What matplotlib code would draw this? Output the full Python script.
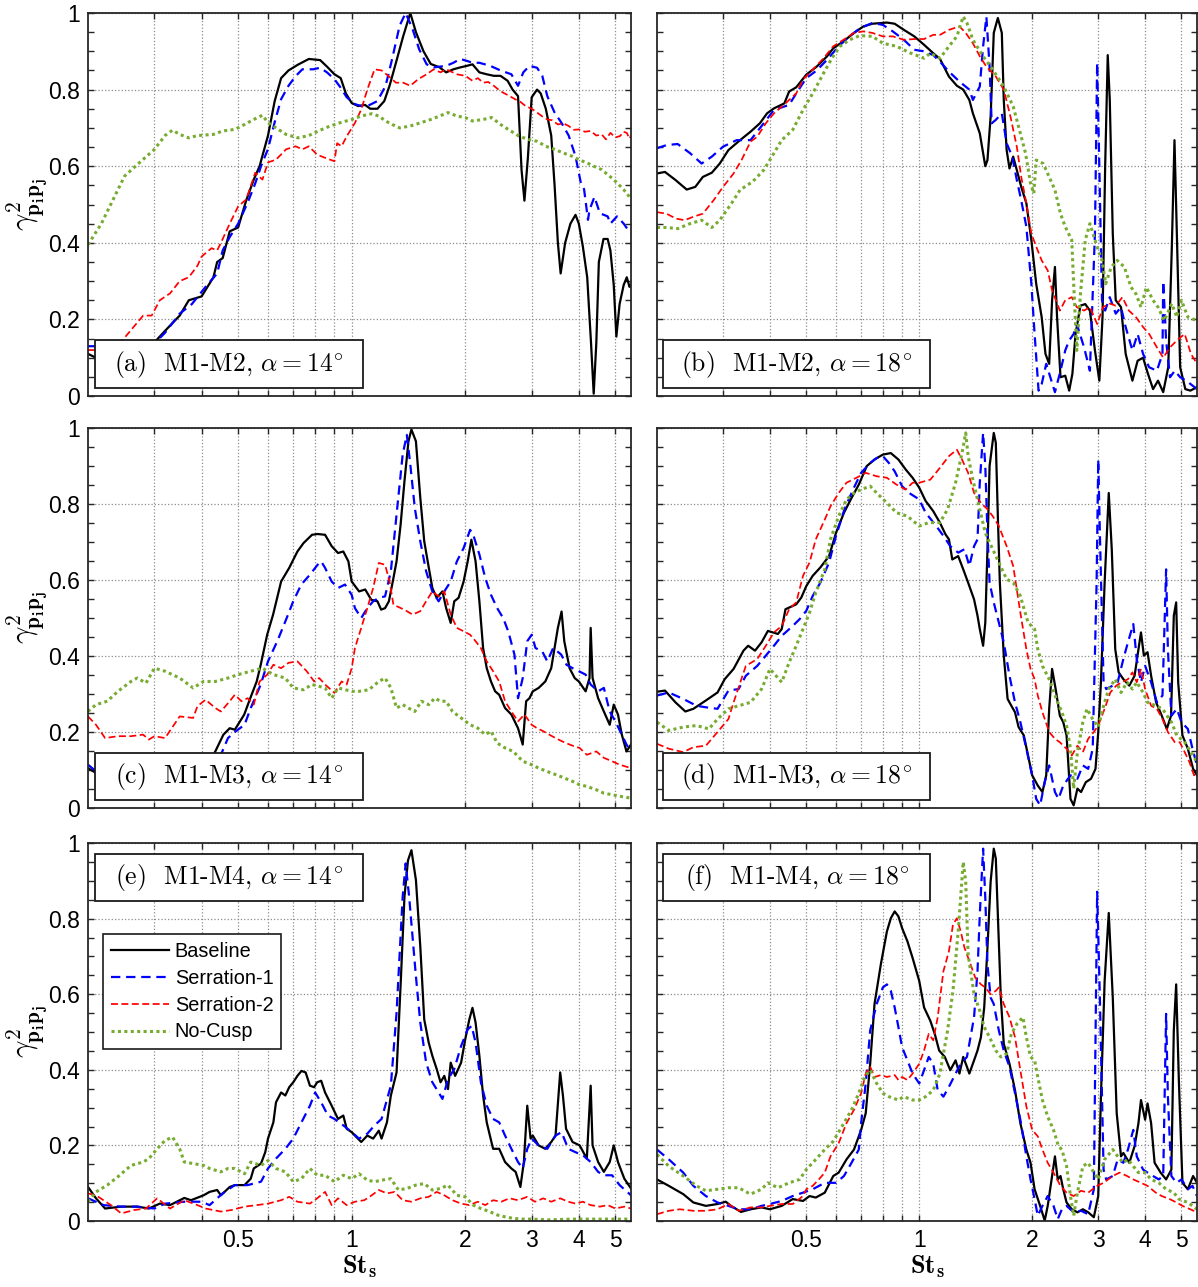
import matplotlib
matplotlib.use("Agg")
import matplotlib.pyplot as plt
from matplotlib.patches import Rectangle
from matplotlib.ticker import FixedLocator, FixedFormatter, MultipleLocator

plt.rcParams['mathtext.fontset'] = 'cm'
plt.rcParams['font.family'] = ['Liberation Sans', 'DejaVu Sans']

# ---------------- data: (St_s, coherence) ----------------
a_base = [(0.2,0.11),(0.22,0.09),(0.25,0.08),(0.28,0.11),(0.30,0.14),(0.32,0.17),(0.35,0.21),(0.37,0.25),(0.40,0.26),(0.43,0.31),(0.44,0.35),(0.455,0.36),(0.475,0.43),(0.50,0.44),(0.525,0.51),(0.55,0.565),(0.57,0.60),(0.60,0.68),(0.625,0.77),(0.65,0.83),(0.68,0.85),(0.72,0.865),(0.77,0.88),(0.825,0.877),(0.86,0.86),(0.90,0.84),(0.935,0.83),(0.965,0.79),(1.0,0.765),(1.04,0.757),(1.085,0.76),(1.12,0.75),(1.17,0.75),(1.22,0.77),(1.26,0.81),(1.31,0.87),(1.37,0.94),(1.43,1.0),(1.48,0.95),(1.55,0.90),(1.62,0.867),(1.71,0.858),(1.78,0.845),(1.86,0.853),(1.94,0.858),(2.02,0.862),(2.09,0.866),(2.18,0.845),(2.28,0.84),(2.38,0.836),(2.48,0.836),(2.59,0.823),(2.67,0.80),(2.76,0.783),(2.82,0.59),(2.87,0.51),(2.93,0.62),(3.0,0.78),(3.1,0.80),(3.17,0.79),(3.27,0.75),(3.38,0.68),(3.45,0.55),(3.52,0.40),(3.58,0.32),(3.68,0.40),(3.80,0.45),(3.92,0.473),(4.0,0.45),(4.1,0.39),(4.21,0.31),(4.31,0.137),(4.38,0.006),(4.45,0.137),(4.52,0.35),(4.65,0.41),(4.77,0.41),(4.85,0.38),(4.95,0.29),(5.03,0.155),(5.13,0.24),(5.26,0.29),(5.36,0.31),(5.45,0.285),(5.5,0.29)]
a_ser1 = [(0.2,0.13),(0.21,0.13),(0.23,0.125),(0.26,0.12),(0.28,0.125),(0.30,0.137),(0.32,0.165),(0.35,0.215),(0.377,0.24),(0.41,0.285),(0.44,0.32),(0.455,0.38),(0.475,0.415),(0.5,0.45),(0.53,0.505),(0.555,0.555),(0.575,0.60),(0.6,0.645),(0.625,0.715),(0.65,0.775),(0.68,0.81),(0.71,0.835),(0.74,0.853),(0.79,0.853),(0.825,0.857),(0.86,0.845),(0.9,0.827),(0.935,0.805),(0.97,0.78),(1.02,0.762),(1.06,0.757),(1.1,0.757),(1.17,0.77),(1.23,0.81),(1.28,0.88),(1.34,0.967),(1.39,1.0),(1.45,0.958),(1.51,0.905),(1.58,0.866),(1.65,0.858),(1.78,0.862),(1.86,0.87),(1.94,0.88),(2.02,0.875),(2.09,0.87),(2.18,0.87),(2.33,0.862),(2.48,0.85),(2.65,0.84),(2.76,0.81),(2.85,0.845),(2.96,0.862),(3.1,0.857),(3.2,0.836),(3.3,0.783),(3.45,0.74),(3.6,0.713),(3.76,0.68),(3.92,0.626),(4.05,0.556),(4.13,0.54),(4.23,0.46),(4.27,0.486),(4.4,0.52),(4.55,0.477),(4.77,0.469),(4.85,0.45),(5.05,0.469),(5.26,0.45),(5.4,0.434),(5.5,0.425)]
a_ser2 = [(0.2,0.12),(0.22,0.12),(0.235,0.13),(0.247,0.146),(0.26,0.172),(0.28,0.21),(0.295,0.21),(0.31,0.25),(0.33,0.268),(0.35,0.30),(0.37,0.31),(0.39,0.34),(0.40,0.364),(0.425,0.386),(0.44,0.38),(0.455,0.41),(0.475,0.45),(0.5,0.495),(0.525,0.513),(0.54,0.548),(0.555,0.583),(0.58,0.565),(0.6,0.61),(0.63,0.617),(0.67,0.644),(0.71,0.652),(0.74,0.644),(0.77,0.652),(0.81,0.63),(0.86,0.62),(0.9,0.613),(0.915,0.66),(0.94,0.652),(0.97,0.678),(1.02,0.713),(1.06,0.748),(1.1,0.80),(1.15,0.853),(1.2,0.85),(1.25,0.836),(1.31,0.818),(1.37,0.818),(1.43,0.81),(1.5,0.827),(1.58,0.84),(1.65,0.853),(1.72,0.845),(1.78,0.853),(1.9,0.84),(2.0,0.836),(2.09,0.823),(2.16,0.83),(2.23,0.818),(2.3,0.82),(2.38,0.81),(2.45,0.8),(2.52,0.792),(2.6,0.785),(2.71,0.775),(2.8,0.768),(2.89,0.757),(3.0,0.75),(3.1,0.74),(3.2,0.73),(3.3,0.722),(3.4,0.72),(3.52,0.709),(3.64,0.712),(3.76,0.705),(3.88,0.695),(4.0,0.696),(4.15,0.69),(4.3,0.692),(4.45,0.68),(4.6,0.683),(4.72,0.67),(4.85,0.687),(5.0,0.675),(5.15,0.679),(5.25,0.69),(5.36,0.687),(5.45,0.672),(5.5,0.68)]
a_nocusp = [(0.2,0.395),(0.217,0.45),(0.235,0.52),(0.25,0.574),(0.27,0.604),(0.3,0.644),(0.32,0.68),(0.335,0.694),(0.35,0.683),(0.37,0.674),(0.39,0.68),(0.43,0.683),(0.455,0.692),(0.49,0.696),(0.52,0.709),(0.55,0.722),(0.58,0.733),(0.6,0.714),(0.63,0.70),(0.67,0.683),(0.72,0.674),(0.77,0.68),(0.825,0.694),(0.877,0.705),(0.935,0.714),(1.0,0.722),(1.06,0.731),(1.13,0.737),(1.18,0.731),(1.23,0.718),(1.28,0.709),(1.34,0.70),(1.43,0.705),(1.53,0.714),(1.62,0.722),(1.71,0.731),(1.8,0.74),(1.9,0.731),(2.0,0.727),(2.09,0.718),(2.23,0.722),(2.35,0.727),(2.48,0.709),(2.6,0.696),(2.76,0.68),(2.93,0.67),(3.1,0.665),(3.27,0.652),(3.45,0.644),(3.63,0.635),(3.84,0.626),(4.0,0.617),(4.2,0.609),(4.38,0.60),(4.6,0.591),(4.77,0.578),(4.95,0.565),(5.15,0.548),(5.36,0.53),(5.5,0.513)]

b_base = [(0.2,0.581),(0.21,0.585),(0.224,0.564),(0.24,0.539),(0.253,0.546),(0.265,0.572),(0.28,0.583),(0.294,0.607),(0.31,0.642),(0.333,0.668),(0.355,0.69),(0.376,0.712),(0.393,0.738),(0.41,0.751),(0.437,0.764),(0.45,0.795),(0.47,0.806),(0.5,0.839),(0.533,0.86),(0.568,0.887),(0.59,0.908),(0.628,0.926),(0.67,0.948),(0.71,0.965),(0.75,0.972),(0.82,0.975),(0.86,0.972),(0.91,0.956),(0.97,0.939),(1.03,0.917),(1.09,0.895),(1.136,0.88),(1.2,0.834),(1.26,0.81),(1.31,0.80),(1.36,0.773),(1.39,0.738),(1.45,0.686),(1.5,0.60),(1.52,0.616),(1.55,0.73),(1.58,0.948),(1.62,0.987),(1.66,0.948),(1.68,0.773),(1.71,0.642),(1.74,0.594),(1.78,0.625),(1.82,0.59),(1.87,0.546),(1.93,0.503),(1.99,0.407),(2.05,0.293),(2.12,0.206),(2.17,0.11),(2.22,0.084),(2.26,0.25),(2.3,0.337),(2.33,0.206),(2.38,0.049),(2.45,0.053),(2.51,0.014),(2.56,0.058),(2.61,0.162),(2.69,0.236),(2.77,0.24),(2.85,0.223),(2.94,0.119),(3.02,0.04),(3.08,0.206),(3.13,0.599),(3.18,0.89),(3.22,0.773),(3.28,0.424),(3.34,0.25),(3.45,0.232),(3.55,0.11),(3.7,0.04),(3.82,0.092),(3.95,0.10),(4.07,0.058),(4.2,0.018),(4.33,0.04),(4.47,0.01),(4.61,0.075),(4.71,0.38),(4.79,0.668),(4.86,0.424),(4.96,0.075),(5.12,0.018),(5.28,0.014),(5.5,0.023)]
b_ser1 = [(0.2,0.647),(0.212,0.655),(0.227,0.658),(0.245,0.634),(0.263,0.607),(0.28,0.625),(0.3,0.651),(0.326,0.668),(0.355,0.668),(0.385,0.712),(0.41,0.747),(0.45,0.76),(0.47,0.79),(0.5,0.83),(0.533,0.85),(0.568,0.878),(0.61,0.913),(0.652,0.939),(0.695,0.96),(0.75,0.974),(0.8,0.969),(0.85,0.952),(0.91,0.93),(0.97,0.904),(1.03,0.90),(1.09,0.89),(1.136,0.873),(1.2,0.847),(1.28,0.821),(1.36,0.80),(1.39,0.773),(1.45,0.808),(1.48,0.913),(1.51,0.99),(1.54,0.86),(1.56,0.712),(1.6,0.721),(1.66,0.738),(1.71,0.66),(1.77,0.625),(1.82,0.564),(1.87,0.511),(1.93,0.442),(1.99,0.293),(2.03,0.162),(2.08,0.014),(2.12,0.031),(2.18,0.084),(2.25,0.04),(2.3,0.01),(2.38,0.066),(2.45,0.119),(2.51,0.145),(2.58,0.162),(2.63,0.188),(2.75,0.127),(2.85,0.066),(2.94,0.424),(2.98,0.87),(3.02,0.60),(3.07,0.25),(3.13,0.223),(3.22,0.258),(3.34,0.215),(3.45,0.232),(3.55,0.18),(3.7,0.119),(3.82,0.162),(3.95,0.11),(4.1,0.075),(4.3,0.066),(4.45,0.11),(4.47,0.30),(4.55,0.145),(4.66,0.049),(4.8,0.066),(4.96,0.049),(5.15,0.04),(5.5,0.018)]
b_ser2 = [(0.2,0.48),(0.212,0.476),(0.225,0.463),(0.237,0.459),(0.25,0.468),(0.265,0.476),(0.283,0.511),(0.3,0.546),(0.32,0.581),(0.336,0.616),(0.355,0.664),(0.37,0.677),(0.39,0.712),(0.41,0.738),(0.44,0.764),(0.47,0.79),(0.49,0.826),(0.52,0.852),(0.556,0.882),(0.59,0.913),(0.628,0.93),(0.67,0.948),(0.71,0.952),(0.75,0.948),(0.8,0.939),(0.85,0.939),(0.91,0.93),(0.97,0.932),(1.03,0.932),(1.09,0.943),(1.136,0.943),(1.2,0.956),(1.28,0.965),(1.33,0.948),(1.39,0.921),(1.45,0.887),(1.51,0.86),(1.6,0.834),(1.68,0.80),(1.75,0.73),(1.82,0.651),(1.87,0.572),(1.93,0.503),(1.99,0.424),(2.05,0.39),(2.12,0.354),(2.2,0.328),(2.26,0.276),(2.37,0.223),(2.45,0.25),(2.55,0.258),(2.63,0.232),(2.75,0.223),(2.85,0.232),(2.98,0.188),(3.09,0.232),(3.22,0.241),(3.34,0.236),(3.48,0.258),(3.62,0.223),(3.78,0.206),(3.95,0.18),(4.1,0.162),(4.3,0.127),(4.47,0.10),(4.66,0.127),(4.86,0.145),(5.1,0.162),(5.3,0.11),(5.5,0.084)]
b_nocusp = [(0.2,0.44),(0.212,0.44),(0.227,0.437),(0.245,0.45),(0.263,0.459),(0.28,0.44),(0.294,0.459),(0.316,0.503),(0.333,0.538),(0.36,0.56),(0.385,0.59),(0.41,0.634),(0.43,0.668),(0.46,0.695),(0.49,0.747),(0.52,0.79),(0.556,0.843),(0.585,0.882),(0.615,0.913),(0.652,0.93),(0.695,0.941),(0.75,0.939),(0.8,0.921),(0.87,0.913),(0.95,0.895),(1.03,0.882),(1.07,0.895),(1.136,0.882),(1.2,0.913),(1.26,0.939),(1.31,0.991),(1.34,0.974),(1.39,0.93),(1.48,0.887),(1.57,0.852),(1.68,0.808),(1.78,0.756),(1.86,0.686),(1.92,0.634),(1.98,0.555),(2.02,0.529),(2.05,0.616),(2.14,0.607),(2.22,0.572),(2.3,0.538),(2.38,0.476),(2.45,0.442),(2.55,0.407),(2.58,0.293),(2.63,0.119),(2.69,0.267),(2.77,0.407),(2.85,0.45),(2.98,0.389),(3.07,0.354),(3.14,0.293),(3.25,0.337),(3.37,0.354),(3.52,0.337),(3.67,0.284),(3.78,0.267),(3.9,0.232),(4.03,0.284),(4.2,0.25),(4.33,0.232),(4.5,0.197),(4.71,0.241),(4.86,0.206),(5.0,0.25),(5.2,0.206),(5.5,0.197)]

c_base = [(0.2,0.105),(0.22,0.08),(0.25,0.06),(0.3,0.05),(0.35,0.06),(0.40,0.09),(0.435,0.149),(0.457,0.193),(0.475,0.21),(0.49,0.206),(0.519,0.246),(0.539,0.29),(0.56,0.333),(0.574,0.377),(0.597,0.456),(0.619,0.509),(0.65,0.596),(0.683,0.632),(0.718,0.675),(0.745,0.697),(0.785,0.719),(0.812,0.721),(0.85,0.719),(0.885,0.689),(0.92,0.671),(0.95,0.675),(0.98,0.649),(1.0,0.596),(1.046,0.57),(1.086,0.575),(1.127,0.548),(1.17,0.544),(1.197,0.522),(1.226,0.526),(1.255,0.544),(1.285,0.596),(1.315,0.649),(1.348,0.746),(1.38,0.86),(1.414,0.965),(1.44,0.996),(1.48,0.965),(1.52,0.816),(1.557,0.702),(1.596,0.64),(1.636,0.579),(1.68,0.553),(1.74,0.57),(1.78,0.526),(1.83,0.487),(1.87,0.544),(1.92,0.553),(1.98,0.596),(2.03,0.649),(2.076,0.706),(2.13,0.649),(2.18,0.544),(2.23,0.421),(2.28,0.368),(2.34,0.333),(2.4,0.307),(2.46,0.298),(2.55,0.263),(2.65,0.246),(2.76,0.21),(2.84,0.167),(2.9,0.281),(2.96,0.289),(3.02,0.307),(3.13,0.316),(3.26,0.333),(3.38,0.368),(3.52,0.474),(3.6,0.517),(3.66,0.439),(3.78,0.368),(3.9,0.342),(4.0,0.333),(4.17,0.307),(4.27,0.342),(4.3,0.474),(4.35,0.342),(4.5,0.289),(4.66,0.254),(4.83,0.219),(4.95,0.272),(5.08,0.246),(5.2,0.193),(5.35,0.149),(5.5,0.167)]
c_ser1 = [(0.2,0.114),(0.22,0.08),(0.25,0.05),(0.3,0.04),(0.35,0.05),(0.40,0.08),(0.45,0.14),(0.47,0.184),(0.49,0.2),(0.52,0.219),(0.54,0.263),(0.574,0.325),(0.6,0.386),(0.635,0.439),(0.667,0.491),(0.7,0.544),(0.735,0.588),(0.775,0.614),(0.812,0.64),(0.83,0.649),(0.85,0.632),(0.885,0.596),(0.92,0.579),(0.96,0.588),(1.0,0.561),(1.02,0.526),(1.06,0.5),(1.1,0.526),(1.14,0.544),(1.18,0.553),(1.226,0.557),(1.27,0.623),(1.315,0.772),(1.365,0.93),(1.4,0.982),(1.43,0.904),(1.47,0.789),(1.52,0.702),(1.575,0.623),(1.636,0.57),(1.7,0.544),(1.76,0.57),(1.83,0.596),(1.9,0.649),(1.98,0.684),(2.06,0.732),(2.1,0.719),(2.18,0.667),(2.26,0.605),(2.34,0.561),(2.43,0.526),(2.52,0.5),(2.6,0.465),(2.7,0.404),(2.76,0.289),(2.84,0.342),(2.92,0.439),(3.0,0.456),(3.07,0.421),(3.2,0.412),(3.3,0.386),(3.42,0.421),(3.59,0.404),(3.71,0.377),(3.85,0.368),(4.0,0.36),(4.17,0.351),(4.3,0.325),(4.5,0.307),(4.66,0.316),(4.83,0.254),(5.0,0.228),(5.2,0.193),(5.35,0.167),(5.5,0.149)]
c_ser2 = [(0.2,0.241),(0.21,0.219),(0.222,0.184),(0.24,0.189),(0.26,0.189),(0.28,0.193),(0.29,0.18),(0.3,0.189),(0.32,0.184),(0.35,0.241),(0.38,0.237),(0.39,0.268),(0.41,0.285),(0.435,0.263),(0.45,0.254),(0.475,0.281),(0.49,0.298),(0.51,0.281),(0.53,0.289),(0.55,0.272),(0.57,0.333),(0.597,0.351),(0.62,0.377),(0.65,0.368),(0.68,0.382),(0.718,0.386),(0.76,0.36),(0.795,0.333),(0.82,0.342),(0.85,0.325),(0.9,0.303),(0.94,0.333),(0.97,0.325),(1.0,0.368),(1.02,0.421),(1.06,0.474),(1.1,0.526),(1.14,0.579),(1.18,0.645),(1.226,0.64),(1.26,0.596),(1.29,0.535),(1.35,0.526),(1.4,0.518),(1.45,0.509),(1.52,0.518),(1.575,0.544),(1.636,0.57),(1.7,0.557),(1.76,0.57),(1.83,0.509),(1.9,0.474),(1.98,0.465),(2.06,0.456),(2.13,0.439),(2.2,0.421),(2.28,0.386),(2.37,0.36),(2.46,0.333),(2.55,0.281),(2.65,0.254),(2.76,0.228),(2.87,0.246),(3.0,0.219),(3.1,0.21),(3.22,0.202),(3.34,0.193),(3.47,0.184),(3.62,0.175),(3.78,0.167),(3.9,0.162),(4.02,0.158),(4.2,0.14),(4.45,0.149),(4.66,0.132),(4.9,0.123),(5.13,0.114),(5.5,0.105)]
c_nocusp = [(0.2,0.254),(0.21,0.272),(0.225,0.281),(0.24,0.307),(0.26,0.333),(0.27,0.342),(0.285,0.329),(0.3,0.368),(0.32,0.36),(0.35,0.342),(0.38,0.316),(0.405,0.333),(0.435,0.333),(0.47,0.342),(0.5,0.351),(0.54,0.36),(0.58,0.368),(0.62,0.351),(0.667,0.342),(0.7,0.316),(0.745,0.311),(0.785,0.325),(0.85,0.316),(0.885,0.289),(0.92,0.316),(1.0,0.307),(1.046,0.307),(1.11,0.311),(1.18,0.333),(1.226,0.342),(1.27,0.316),(1.315,0.263),(1.365,0.272),(1.414,0.263),(1.47,0.254),(1.53,0.281),(1.6,0.272),(1.66,0.289),(1.72,0.281),(1.78,0.281),(1.85,0.254),(1.95,0.237),(2.06,0.219),(2.16,0.21),(2.26,0.193),(2.34,0.202),(2.43,0.171),(2.55,0.158),(2.68,0.149),(2.84,0.123),(3.0,0.114),(3.13,0.105),(3.3,0.096),(3.47,0.088),(3.66,0.079),(3.85,0.07),(4.02,0.061),(4.2,0.057),(4.45,0.048),(4.66,0.039),(4.9,0.035),(5.13,0.031),(5.5,0.026)]

d_base = [(0.2,0.306),(0.21,0.309),(0.224,0.278),(0.238,0.254),(0.25,0.261),(0.27,0.283),(0.29,0.304),(0.303,0.339),(0.32,0.366),(0.34,0.414),(0.35,0.427),(0.365,0.414),(0.38,0.436),(0.395,0.466),(0.42,0.458),(0.43,0.471),(0.44,0.523),(0.47,0.536),(0.485,0.554),(0.5,0.584),(0.52,0.611),(0.545,0.633),(0.575,0.663),(0.6,0.724),(0.63,0.777),(0.66,0.816),(0.69,0.851),(0.725,0.90),(0.76,0.917),(0.8,0.93),(0.84,0.934),(0.88,0.917),(0.92,0.891),(0.96,0.869),(1.0,0.843),(1.04,0.808),(1.09,0.781),(1.135,0.751),(1.175,0.72),(1.2,0.707),(1.225,0.654),(1.27,0.663),(1.31,0.628),(1.35,0.593),(1.4,0.549),(1.43,0.506),(1.45,0.471),(1.48,0.427),(1.5,0.488),(1.52,0.68),(1.54,0.90),(1.58,0.987),(1.6,0.961),(1.62,0.768),(1.64,0.593),(1.68,0.401),(1.72,0.287),(1.76,0.269),(1.8,0.252),(1.84,0.213),(1.9,0.191),(1.95,0.138),(2.0,0.086),(2.07,0.059),(2.13,0.042),(2.18,0.086),(2.22,0.261),(2.26,0.366),(2.31,0.313),(2.37,0.243),(2.42,0.226),(2.47,0.191),(2.53,0.024),(2.58,0.007),(2.64,0.051),(2.7,0.042),(2.78,0.068),(2.87,0.077),(2.95,0.103),(3.0,0.2),(3.05,0.331),(3.12,0.593),(3.2,0.829),(3.26,0.68),(3.33,0.418),(3.4,0.357),(3.5,0.339),(3.63,0.322),(3.75,0.348),(3.84,0.418),(3.9,0.462),(3.97,0.401),(4.06,0.41),(4.15,0.348),(4.28,0.278),(4.43,0.243),(4.57,0.208),(4.69,0.243),(4.77,0.506),(4.84,0.541),(4.9,0.331),(5.03,0.191),(5.2,0.156),(5.37,0.103),(5.5,0.086)]
d_ser1 = [(0.2,0.296),(0.215,0.304),(0.235,0.287),(0.255,0.269),(0.27,0.265),(0.29,0.261),(0.31,0.309),(0.33,0.313),(0.345,0.348),(0.37,0.374),(0.39,0.401),(0.41,0.427),(0.43,0.453),(0.46,0.479),(0.48,0.497),(0.5,0.519),(0.52,0.558),(0.545,0.593),(0.575,0.646),(0.6,0.716),(0.632,0.786),(0.666,0.838),(0.7,0.882),(0.74,0.908),(0.77,0.921),(0.8,0.926),(0.83,0.908),(0.86,0.886),(0.9,0.847),(0.94,0.829),(1.0,0.812),(1.04,0.777),(1.11,0.742),(1.16,0.716),(1.21,0.689),(1.27,0.672),(1.32,0.681),(1.36,0.637),(1.4,0.689),(1.43,0.707),(1.45,0.856),(1.48,0.987),(1.5,0.90),(1.52,0.724),(1.54,0.593),(1.58,0.541),(1.63,0.488),(1.68,0.436),(1.74,0.348),(1.8,0.278),(1.86,0.226),(1.93,0.156),(2.0,0.086),(2.05,0.024),(2.1,0.007),(2.16,0.068),(2.22,0.112),(2.3,0.042),(2.35,0.024),(2.42,0.059),(2.53,0.086),(2.64,0.077),(2.73,0.112),(2.82,0.103),(2.9,0.156),(2.97,0.593),(3.0,0.917),(3.03,0.724),(3.1,0.331),(3.15,0.313),(3.28,0.322),(3.38,0.331),(3.5,0.392),(3.6,0.436),(3.72,0.484),(3.8,0.392),(3.9,0.331),(4.0,0.374),(4.15,0.331),(4.3,0.278),(4.45,0.296),(4.55,0.628),(4.6,0.418),(4.7,0.243),(4.86,0.261),(5.0,0.226),(5.2,0.208),(5.35,0.156),(5.5,0.112)]
d_ser2 = [(0.2,0.169),(0.215,0.156),(0.235,0.147),(0.25,0.16),(0.27,0.164),(0.29,0.2),(0.31,0.234),(0.32,0.278),(0.345,0.374),(0.37,0.392),(0.39,0.427),(0.41,0.462),(0.43,0.479),(0.45,0.523),(0.47,0.541),(0.49,0.611),(0.51,0.646),(0.53,0.707),(0.56,0.759),(0.58,0.794),(0.61,0.829),(0.64,0.856),(0.68,0.869),(0.72,0.882),(0.77,0.873),(0.82,0.869),(0.87,0.851),(0.92,0.838),(0.96,0.856),(1.0,0.856),(1.07,0.864),(1.135,0.895),(1.2,0.926),(1.26,0.943),(1.3,0.917),(1.35,0.882),(1.4,0.829),(1.46,0.803),(1.52,0.786),(1.57,0.768),(1.63,0.742),(1.71,0.689),(1.78,0.637),(1.86,0.514),(1.93,0.418),(1.98,0.366),(2.03,0.339),(2.07,0.296),(2.13,0.252),(2.22,0.2),(2.3,0.182),(2.37,0.173),(2.47,0.156),(2.55,0.138),(2.64,0.164),(2.73,0.147),(2.82,0.182),(2.92,0.2),(3.0,0.217),(3.12,0.261),(3.23,0.304),(3.35,0.322),(3.47,0.331),(3.6,0.339),(3.7,0.357),(3.8,0.331),(3.9,0.366),(4.0,0.313),(4.15,0.269),(4.3,0.261),(4.45,0.234),(4.6,0.2),(4.8,0.173),(4.95,0.173),(5.1,0.147),(5.25,0.121),(5.4,0.086),(5.5,0.09)]
d_nocusp = [(0.2,0.226),(0.215,0.204),(0.235,0.213),(0.255,0.217),(0.275,0.208),(0.29,0.234),(0.31,0.261),(0.33,0.269),(0.355,0.278),(0.38,0.313),(0.4,0.366),(0.43,0.331),(0.45,0.383),(0.47,0.427),(0.49,0.471),(0.51,0.514),(0.53,0.567),(0.56,0.628),(0.58,0.707),(0.61,0.768),(0.64,0.812),(0.67,0.829),(0.7,0.838),(0.74,0.847),(0.77,0.829),(0.82,0.803),(0.87,0.777),(0.93,0.768),(1.0,0.742),(1.06,0.751),(1.135,0.751),(1.19,0.786),(1.25,0.856),(1.3,0.934),(1.33,0.987),(1.35,0.926),(1.39,0.864),(1.45,0.786),(1.5,0.724),(1.57,0.681),(1.63,0.646),(1.71,0.602),(1.78,0.593),(1.86,0.558),(1.95,0.488),(2.03,0.471),(2.07,0.418),(2.13,0.374),(2.22,0.339),(2.32,0.287),(2.4,0.252),(2.47,0.217),(2.53,0.156),(2.58,0.051),(2.64,0.147),(2.73,0.226),(2.8,0.261),(2.9,0.234),(3.0,0.213),(3.1,0.269),(3.2,0.313),(3.33,0.339),(3.45,0.304),(3.58,0.331),(3.7,0.313),(3.8,0.331),(3.95,0.304),(4.06,0.278),(4.27,0.269),(4.45,0.261),(4.7,0.226),(4.86,0.191),(5.1,0.173),(5.3,0.147),(5.5,0.121)]

e_base = [(0.2,0.09),(0.21,0.06),(0.222,0.033),(0.245,0.038),(0.27,0.038),(0.29,0.033),(0.31,0.046),(0.33,0.042),(0.36,0.061),(0.375,0.055),(0.405,0.068),(0.42,0.077),(0.44,0.082),(0.45,0.068),(0.475,0.09),(0.49,0.095),(0.52,0.095),(0.54,0.112),(0.55,0.139),(0.575,0.152),(0.59,0.182),(0.6,0.218),(0.62,0.261),(0.63,0.314),(0.65,0.34),(0.667,0.332),(0.683,0.354),(0.7,0.367),(0.718,0.384),(0.736,0.397),(0.755,0.393),(0.775,0.358),(0.795,0.354),(0.81,0.367),(0.83,0.371),(0.85,0.34),(0.885,0.305),(0.92,0.27),(0.95,0.279),(0.97,0.244),(1.0,0.235),(1.02,0.226),(1.06,0.209),(1.1,0.226),(1.14,0.218),(1.18,0.239),(1.2,0.218),(1.24,0.261),(1.27,0.332),(1.315,0.393),(1.35,0.639),(1.38,0.858),(1.41,0.954),(1.44,0.981),(1.48,0.902),(1.52,0.726),(1.557,0.533),(1.6,0.472),(1.636,0.437),(1.68,0.402),(1.72,0.367),(1.76,0.384),(1.8,0.349),(1.83,0.419),(1.88,0.384),(1.95,0.419),(2.0,0.481),(2.05,0.533),(2.09,0.564),(2.13,0.525),(2.18,0.437),(2.23,0.332),(2.28,0.261),(2.37,0.191),(2.46,0.191),(2.55,0.156),(2.65,0.139),(2.72,0.13),(2.8,0.09),(2.86,0.156),(2.92,0.305),(2.98,0.218),(3.02,0.226),(3.13,0.2),(3.26,0.191),(3.38,0.209),(3.47,0.226),(3.57,0.393),(3.63,0.332),(3.7,0.244),(3.85,0.209),(4.02,0.2),(4.2,0.165),(4.3,0.358),(4.35,0.2),(4.5,0.156),(4.66,0.13),(4.83,0.156),(4.95,0.2),(5.08,0.156),(5.28,0.112),(5.5,0.086)]
e_ser1 = [(0.2,0.06),(0.22,0.042),(0.245,0.038),(0.27,0.038),(0.3,0.033),(0.32,0.046),(0.36,0.051),(0.4,0.051),(0.42,0.042),(0.455,0.073),(0.49,0.095),(0.53,0.095),(0.575,0.104),(0.6,0.139),(0.63,0.165),(0.667,0.191),(0.7,0.218),(0.736,0.261),(0.775,0.305),(0.8,0.34),(0.83,0.314),(0.865,0.279),(0.9,0.27),(0.95,0.253),(1.0,0.235),(1.046,0.218),(1.1,0.231),(1.15,0.253),(1.2,0.27),(1.27,0.358),(1.315,0.551),(1.365,0.858),(1.39,0.946),(1.42,0.858),(1.48,0.647),(1.52,0.525),(1.575,0.419),(1.636,0.367),(1.7,0.34),(1.74,0.323),(1.8,0.375),(1.87,0.402),(1.95,0.463),(2.03,0.507),(2.08,0.516),(2.13,0.472),(2.2,0.367),(2.28,0.305),(2.37,0.27),(2.46,0.261),(2.55,0.226),(2.65,0.191),(2.76,0.156),(2.84,0.139),(2.92,0.191),(3.0,0.218),(3.13,0.2),(3.3,0.191),(3.47,0.226),(3.6,0.235),(3.75,0.191),(3.92,0.182),(4.1,0.174),(4.3,0.156),(4.5,0.13),(4.66,0.121),(4.9,0.121),(5.13,0.095),(5.5,0.068)]
e_ser2 = [(0.2,0.073),(0.21,0.068),(0.23,0.042),(0.245,0.02),(0.265,0.029),(0.285,0.033),(0.305,0.06),(0.33,0.033),(0.36,0.055),(0.39,0.042),(0.41,0.033),(0.45,0.025),(0.48,0.029),(0.52,0.038),(0.56,0.042),(0.6,0.046),(0.65,0.055),(0.683,0.064),(0.718,0.051),(0.775,0.046),(0.81,0.06),(0.85,0.077),(0.885,0.042),(0.92,0.06),(0.97,0.042),(1.02,0.051),(1.08,0.055),(1.13,0.068),(1.18,0.082),(1.24,0.073),(1.3,0.077),(1.365,0.055),(1.44,0.051),(1.52,0.06),(1.6,0.064),(1.68,0.077),(1.76,0.068),(1.85,0.055),(1.95,0.046),(2.05,0.042),(2.16,0.051),(2.26,0.042),(2.37,0.055),(2.49,0.051),(2.62,0.06),(2.76,0.055),(2.92,0.064),(3.06,0.051),(3.22,0.06),(3.38,0.051),(3.57,0.06),(3.75,0.051),(3.92,0.046),(4.1,0.051),(4.3,0.042),(4.55,0.038),(4.77,0.042),(5.0,0.033),(5.28,0.038),(5.5,0.033)]
e_nocusp = [(0.2,0.051),(0.21,0.077),(0.225,0.095),(0.24,0.117),(0.26,0.147),(0.28,0.156),(0.29,0.165),(0.305,0.191),(0.32,0.213),(0.335,0.222),(0.35,0.191),(0.36,0.156),(0.38,0.152),(0.405,0.147),(0.42,0.139),(0.45,0.13),(0.47,0.139),(0.49,0.139),(0.52,0.125),(0.54,0.156),(0.575,0.147),(0.6,0.16),(0.63,0.139),(0.667,0.13),(0.7,0.104),(0.736,0.112),(0.775,0.139),(0.81,0.121),(0.85,0.121),(0.9,0.104),(0.95,0.121),(1.0,0.112),(1.046,0.125),(1.1,0.108),(1.15,0.104),(1.2,0.108),(1.27,0.112),(1.33,0.082),(1.4,0.086),(1.48,0.095),(1.557,0.099),(1.636,0.082),(1.72,0.086),(1.8,0.095),(1.9,0.068),(2.0,0.064),(2.1,0.042),(2.2,0.033),(2.32,0.025),(2.43,0.016),(2.55,0.011),(2.68,0.007),(2.84,0.005),(3.0,0.005),(3.3,0.003),(3.85,0.005),(4.45,0.005),(5.5,0.005)]

f_base = [(0.2,0.11),(0.215,0.093),(0.235,0.071),(0.25,0.049),(0.27,0.04),(0.29,0.045),(0.305,0.051),(0.315,0.04),(0.335,0.024),(0.355,0.031),(0.38,0.036),(0.4,0.031),(0.43,0.04),(0.46,0.058),(0.49,0.053),(0.51,0.066),(0.53,0.062),(0.56,0.075),(0.59,0.119),(0.61,0.128),(0.64,0.163),(0.67,0.189),(0.7,0.241),(0.72,0.285),(0.74,0.416),(0.76,0.574),(0.79,0.679),(0.82,0.766),(0.84,0.801),(0.86,0.819),(0.88,0.806),(0.9,0.775),(0.93,0.74),(0.96,0.696),(1.0,0.635),(1.03,0.565),(1.07,0.53),(1.1,0.495),(1.13,0.451),(1.17,0.434),(1.21,0.399),(1.25,0.425),(1.28,0.39),(1.31,0.434),(1.34,0.408),(1.36,0.39),(1.4,0.425),(1.43,0.451),(1.46,0.486),(1.49,0.565),(1.52,0.723),(1.55,0.898),(1.58,0.985),(1.6,0.959),(1.62,0.81),(1.65,0.591),(1.68,0.469),(1.74,0.416),(1.8,0.346),(1.86,0.259),(1.93,0.189),(1.98,0.154),(2.03,0.084),(2.1,0.04),(2.16,0.001),(2.2,0.04),(2.26,0.119),(2.3,0.171),(2.34,0.11),(2.38,0.119),(2.42,0.084),(2.47,0.049),(2.55,0.031),(2.64,0.023),(2.73,0.031),(2.82,0.023),(2.92,0.01),(3.0,0.066),(3.05,0.329),(3.12,0.635),(3.2,0.815),(3.28,0.591),(3.36,0.285),(3.45,0.171),(3.5,0.18),(3.63,0.154),(3.75,0.198),(3.84,0.259),(3.9,0.32),(4.0,0.268),(4.06,0.311),(4.15,0.259),(4.24,0.154),(4.4,0.128),(4.55,0.11),(4.7,0.136),(4.77,0.504),(4.84,0.626),(4.92,0.373),(5.03,0.101),(5.2,0.084),(5.37,0.119),(5.5,0.101)]
f_ser1 = [(0.2,0.189),(0.215,0.163),(0.235,0.128),(0.25,0.093),(0.27,0.066),(0.29,0.049),(0.31,0.04),(0.33,0.031),(0.355,0.031),(0.38,0.04),(0.4,0.045),(0.43,0.053),(0.46,0.066),(0.49,0.075),(0.52,0.084),(0.56,0.101),(0.6,0.101),(0.63,0.119),(0.66,0.154),(0.69,0.189),(0.7,0.259),(0.72,0.364),(0.74,0.504),(0.77,0.574),(0.8,0.618),(0.82,0.626),(0.84,0.609),(0.86,0.565),(0.88,0.513),(0.9,0.46),(0.93,0.425),(0.96,0.39),(1.0,0.364),(1.03,0.399),(1.06,0.434),(1.09,0.416),(1.12,0.346),(1.16,0.329),(1.2,0.355),(1.25,0.39),(1.29,0.416),(1.34,0.434),(1.36,0.469),(1.4,0.539),(1.43,0.661),(1.45,0.81),(1.48,0.985),(1.5,0.854),(1.52,0.679),(1.55,0.591),(1.58,0.574),(1.63,0.504),(1.68,0.451),(1.74,0.408),(1.8,0.338),(1.86,0.268),(1.93,0.171),(1.98,0.11),(2.03,0.058),(2.07,0.014),(2.13,0.04),(2.2,0.066),(2.28,0.04),(2.34,0.005),(2.4,0.031),(2.47,0.04),(2.58,0.023),(2.7,0.027),(2.82,0.018),(2.92,0.084),(2.98,0.871),(3.03,0.591),(3.1,0.136),(3.15,0.11),(3.28,0.119),(3.38,0.163),(3.5,0.154),(3.6,0.189),(3.72,0.241),(3.8,0.171),(3.95,0.136),(4.06,0.128),(4.2,0.119),(4.35,0.11),(4.47,0.119),(4.55,0.548),(4.6,0.329),(4.7,0.119),(4.85,0.101),(5.0,0.11),(5.2,0.084),(5.35,0.093),(5.5,0.066)]
f_ser2 = [(0.2,0.018),(0.215,0.027),(0.23,0.031),(0.25,0.027),(0.27,0.027),(0.29,0.031),(0.31,0.045),(0.33,0.027),(0.355,0.036),(0.38,0.036),(0.4,0.04),(0.43,0.045),(0.46,0.045),(0.49,0.066),(0.5,0.084),(0.52,0.093),(0.54,0.11),(0.56,0.128),(0.58,0.171),(0.61,0.206),(0.64,0.259),(0.67,0.294),(0.7,0.338),(0.72,0.39),(0.74,0.408),(0.76,0.381),(0.79,0.386),(0.82,0.381),(0.86,0.386),(0.88,0.373),(0.9,0.381),(0.93,0.373),(0.96,0.39),(1.0,0.416),(1.03,0.451),(1.06,0.495),(1.09,0.478),(1.12,0.539),(1.16,0.661),(1.2,0.714),(1.23,0.784),(1.26,0.801),(1.29,0.766),(1.32,0.723),(1.36,0.688),(1.41,0.644),(1.46,0.626),(1.5,0.618),(1.55,0.6),(1.6,0.609),(1.63,0.618),(1.68,0.574),(1.74,0.539),(1.8,0.486),(1.86,0.399),(1.93,0.303),(2.0,0.241),(2.07,0.224),(2.13,0.189),(2.2,0.154),(2.28,0.128),(2.38,0.093),(2.47,0.075),(2.58,0.066),(2.7,0.08),(2.82,0.075),(2.98,0.093),(3.1,0.101),(3.28,0.119),(3.42,0.128),(3.58,0.119),(3.72,0.11),(3.9,0.101),(4.06,0.093),(4.27,0.075),(4.43,0.066),(4.65,0.058),(4.85,0.049),(5.03,0.04),(5.28,0.031),(5.5,0.023)]
f_nocusp = [(0.2,0.176),(0.215,0.145),(0.235,0.119),(0.255,0.093),(0.27,0.08),(0.29,0.084),(0.31,0.088),(0.33,0.088),(0.355,0.071),(0.38,0.084),(0.395,0.101),(0.42,0.088),(0.45,0.101),(0.48,0.11),(0.5,0.136),(0.53,0.163),(0.56,0.189),(0.59,0.211),(0.63,0.259),(0.66,0.294),(0.69,0.338),(0.715,0.381),(0.74,0.399),(0.77,0.364),(0.8,0.338),(0.83,0.329),(0.88,0.32),(0.91,0.329),(0.96,0.32),(1.0,0.32),(1.04,0.329),(1.09,0.346),(1.135,0.39),(1.19,0.504),(1.23,0.609),(1.27,0.766),(1.31,0.95),(1.33,0.898),(1.35,0.705),(1.4,0.6),(1.45,0.556),(1.49,0.513),(1.54,0.486),(1.6,0.451),(1.65,0.434),(1.71,0.443),(1.76,0.495),(1.82,0.521),(1.89,0.539),(1.93,0.486),(1.98,0.434),(2.03,0.425),(2.07,0.381),(2.13,0.32),(2.2,0.276),(2.28,0.241),(2.35,0.198),(2.4,0.189),(2.47,0.145),(2.53,0.066),(2.58,0.014),(2.64,0.075),(2.73,0.145),(2.82,0.154),(2.92,0.128),(3.0,0.11),(3.12,0.163),(3.28,0.189),(3.38,0.171),(3.5,0.154),(3.6,0.163),(3.72,0.145),(3.84,0.128),(4.0,0.128),(4.15,0.11),(4.35,0.101),(4.55,0.084),(4.77,0.075),(4.92,0.058),(5.2,0.049),(5.5,0.031)]

names = ['Baseline', 'Serration-1', 'Serration-2', 'No-Cusp']
titles = [r'(a)  M1-M2, $\alpha = 14^{\!\circ}$', r'(b)  M1-M2, $\alpha = 18^{\!\circ}$',
          r'(c)  M1-M3, $\alpha = 14^{\!\circ}$', r'(d)  M1-M3, $\alpha = 18^{\!\circ}$',
          r'(e)  M1-M4, $\alpha = 14^{\!\circ}$', r'(f)  M1-M4, $\alpha = 18^{\!\circ}$']
panels = [[a_base, a_ser1, a_ser2, a_nocusp], [b_base, b_ser1, b_ser2, b_nocusp],
          [c_base, c_ser1, c_ser2, c_nocusp], [d_base, d_ser1, d_ser2, d_nocusp],
          [e_base, e_ser1, e_ser2, e_nocusp], [f_base, f_ser1, f_ser2, f_nocusp]]

x_ticks = [0.3, 0.4, 0.5, 0.6, 0.7, 0.8, 0.9, 1, 2, 3, 4, 5]
x_labels = ['', '', '0.5', '', '', '', '', '1', '2', '3', '4', '5']
y_ticks = [0, 0.2, 0.4, 0.6, 0.8, 1]
y_labels = ['0', '0.2', '0.4', '0.6', '0.8', '1']

# ---------------- styling ----------------
green = (0.466, 0.674, 0.188)
styles = [dict(color='black', lw=1.6, ls='-'),
          dict(color='blue', lw=1.6, ls=(0, (4.2, 2.6))),
          dict(color='red', lw=1.25, ls=(0, (4.0, 2.0))),
          dict(color=green, lw=2.2, ls=(0, (1.0, 1.1)))]

fig = plt.figure(figsize=(11.98, 12.87), dpi=100)
W, H = 1198.0, 1287.0
cols = [(88, 631), (657, 1197)]
rows = [(13, 396), (428, 808), (843, 1221)]

for k in range(6):
    r, c = divmod(k, 2)
    x0, x1 = cols[c]
    y0, y1 = rows[r]
    ax = fig.add_axes([x0 / W, 1 - y1 / H, (x1 - x0) / W, (y1 - y0) / H])
    for data, st, nm in zip(panels[k], styles, names):
        xs = [p[0] for p in data]
        ys = [p[1] for p in data]
        ax.plot(xs, ys, label=nm, **st)
    ax.set_xscale('log')
    ax.set_xlim(0.2, 5.5)
    ax.set_ylim(0, 1)
    ax.xaxis.set_major_locator(FixedLocator(x_ticks))
    ax.xaxis.set_major_formatter(FixedFormatter(x_labels))
    ax.xaxis.set_minor_locator(FixedLocator([]))
    ax.yaxis.set_major_locator(FixedLocator(y_ticks))
    ax.yaxis.set_major_formatter(FixedFormatter(y_labels))
    ax.yaxis.set_minor_locator(MultipleLocator(0.05))
    ax.grid(True, which='major', ls=':', lw=0.9, color='0.55')
    ax.set_axisbelow(True)
    ax.tick_params(which='both', direction='in', top=True, right=True,
                   length=4, width=1.0, color='0.15', labelsize=16.5, pad=6)
    ax.tick_params(axis='x', labelbottom=(r == 2))
    ax.tick_params(axis='y', labelleft=(c == 0))
    for s in ax.spines.values():
        s.set_linewidth(1.3)
        s.set_color('0.15')
    if c == 0:
        ax.set_ylabel(r'$\gamma^2_{\mathbf{p_ip_j}}$', fontsize=22)
        ax.yaxis.set_label_coords(-0.07, 0.5)
    if r == 2:
        ax.set_xlabel(r'$\mathbf{St}_\mathbf{s}$', fontsize=19, labelpad=1)

    # panel label box
    by = 0.847 if r == 2 else 0.02
    ax.add_patch(Rectangle((0.012, by), 0.494, 0.125, transform=ax.transAxes,
                           facecolor='white', edgecolor='0.1', lw=1.3, zorder=5))
    ax.text(0.259, by + 0.0625, titles[k], transform=ax.transAxes, ha='center',
            va='center', fontsize=18.5, family='cmr10', zorder=6)

    if k == 4:
        leg = ax.legend(loc='upper left', bbox_to_anchor=(0.028, 0.76), borderaxespad=0,
                        fontsize=14.3, handlelength=2.9, labelspacing=0.4,
                        handletextpad=0.3, borderpad=0.4, fancybox=False,
                        framealpha=1, edgecolor='0.1')
        leg.get_frame().set_linewidth(1.2)
        leg.set_zorder(7)

fig.savefig('out.png', dpi=100)
